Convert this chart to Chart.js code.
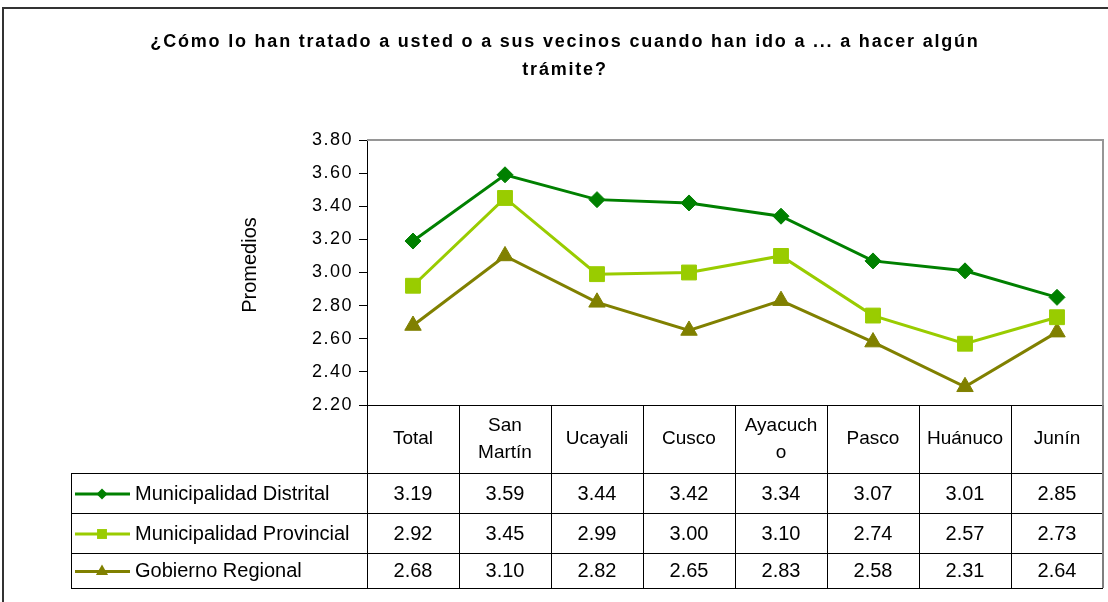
<!DOCTYPE html>
<html>
<head>
<meta charset="utf-8">
<script src="https://cdn.jsdelivr.net/npm/chart.js@4/dist/chart.umd.min.js"></script>
<style>
  html, body { margin: 0; padding: 0; background: #ffffff; }
  #c { display: block; }
</style>
</head>
<body>
<canvas id="c" width="1108" height="602"></canvas>
<script>
// ---- Data ----
const categories = ['Total', 'San Martín', 'Ucayali', 'Cusco', 'Ayacucho', 'Pasco', 'Huánuco', 'Junín'];
const headerLabels = [['Total'], ['San', 'Martín'], ['Ucayali'], ['Cusco'], ['Ayacuch', 'o'], ['Pasco'], ['Huánuco'], ['Junín']];
const seriesNames = ['Municipalidad Distrital', 'Municipalidad Provincial', 'Gobierno Regional'];
const distrital  = [3.19, 3.59, 3.44, 3.42, 3.34, 3.07, 3.01, 2.85];
const provincial = [2.92, 3.45, 2.99, 3.00, 3.10, 2.74, 2.57, 2.73];
const regional   = [2.68, 3.10, 2.82, 2.65, 2.83, 2.58, 2.31, 2.64];
const yMin = 2.2, yMax = 3.8, yStep = 0.2;
const titleLines = ['¿Cómo lo han tratado a usted o a sus vecinos cuando han ido a ... a hacer algún', 'trámite?'];
const yTitle = 'Promedios';

const FONT = '"Liberation Sans", Arial, sans-serif';
const colors = ['#008000', '#99CC00', '#808000'];
const styles = ['rectRot', 'rect', 'triangle'];
const radii = [8, 10.5, 9.5];
const legendRadii = [5.5, 7, 7];

function marker(ctx, style, r, x, y, color) {
  ctx.save();
  ctx.fillStyle = color;
  ctx.beginPath();
  if (style === 'rectRot') {
    ctx.moveTo(x, y - r); ctx.lineTo(x + r, y); ctx.lineTo(x, y + r); ctx.lineTo(x - r, y);
  } else if (style === 'rect') {
    const s = r * Math.SQRT1_2;
    ctx.rect(x - s, y - s, 2 * s, 2 * s);
  } else {
    ctx.moveTo(x, y - r);
    ctx.lineTo(x + r * 0.866, y + r * 0.5);
    ctx.lineTo(x - r * 0.866, y + r * 0.5);
  }
  ctx.closePath();
  ctx.fill();
  ctx.restore();
}

const tablePlugin = {
  id: 'tablePlugin',
  beforeDraw(chart) {
    const ctx = chart.ctx;
    ctx.save();
    ctx.fillStyle = '#ffffff';
    ctx.fillRect(0, 0, chart.width, chart.height);
    ctx.restore();
    if ('letterSpacing' in ctx) ctx.letterSpacing = '1.5px';
  },
  beforeDatasetsDraw(chart) {
    const ctx = chart.ctx;
    if ('letterSpacing' in ctx) ctx.letterSpacing = '0px';
    const a = chart.chartArea;
    ctx.save();
    ctx.strokeStyle = '#969696';
    ctx.lineWidth = 2;
    ctx.beginPath();
    ctx.moveTo(a.left, a.top);
    ctx.lineTo(a.right, a.top);
    ctx.lineTo(a.right, a.bottom);
    ctx.stroke();
    ctx.restore();
  },
  afterDraw(chart) {
    const ctx = chart.ctx;
    const a = chart.chartArea;
    const xs = chart.scales.x;
    const n = categories.length;
    const half = (a.right - a.left) / n / 2;
    const tableLeft = 71;
    const rowEdges = [a.bottom, 473, 513, 553, 588];
    ctx.save();
    if ('letterSpacing' in ctx) ctx.letterSpacing = '0px';

    // outer frame
    ctx.strokeStyle = '#333333';
    ctx.lineWidth = 2;
    ctx.beginPath();
    ctx.moveTo(3, 602); ctx.lineTo(3, 8); ctx.lineTo(1108, 8);
    ctx.stroke();

    // table grid
    ctx.strokeStyle = '#000000';
    ctx.lineWidth = 1;
    ctx.beginPath();
    ctx.moveTo(a.left, rowEdges[0] + 0.5); ctx.lineTo(a.right, rowEdges[0] + 0.5);
    for (let r = 1; r < rowEdges.length; r++) {
      ctx.moveTo(tableLeft, rowEdges[r] + 0.5); ctx.lineTo(a.right, rowEdges[r] + 0.5);
    }
    ctx.moveTo(tableLeft + 0.5, rowEdges[1]); ctx.lineTo(tableLeft + 0.5, rowEdges[4]);
    for (let i = 0; i < n; i++) {
      const xl = Math.round(xs.getPixelForValue(i) - half) + 0.5;
      ctx.moveTo(xl, rowEdges[0]); ctx.lineTo(xl, rowEdges[4]);
    }
    ctx.stroke();
    ctx.strokeStyle = '#7f7f7f';
    ctx.lineWidth = 2;
    ctx.beginPath();
    ctx.moveTo(a.right, rowEdges[0]); ctx.lineTo(a.right, rowEdges[4]);
    ctx.stroke();

    // header labels
    ctx.fillStyle = '#000000';
    ctx.textAlign = 'center';
    ctx.textBaseline = 'middle';
    ctx.font = '19px ' + FONT;
    const hc = (rowEdges[0] + rowEdges[1]) / 2;
    for (let i = 0; i < n; i++) {
      const lines = headerLabels[i];
      const lh = 27;
      const y0 = hc - (lines.length - 1) * lh / 2;
      const x = xs.getPixelForValue(i);
      lines.forEach((t, k) => ctx.fillText(t, x, y0 + k * lh));
    }

    // data rows
    const data = [distrital, provincial, regional];
    ctx.font = '20px ' + FONT;
    for (let r = 0; r < 3; r++) {
      const yc = (rowEdges[r + 1] + rowEdges[r + 2]) / 2 + 1;
      ctx.textAlign = 'center';
      ctx.fillStyle = '#000000';
      for (let i = 0; i < n; i++) {
        ctx.fillText(data[r][i].toFixed(2), xs.getPixelForValue(i), yc);
      }
      ctx.strokeStyle = colors[r];
      ctx.lineWidth = 3;
      ctx.beginPath();
      ctx.moveTo(75, yc); ctx.lineTo(130, yc);
      ctx.stroke();
      marker(ctx, styles[r], legendRadii[r], 102, yc, colors[r]);
      ctx.textAlign = 'left';
      ctx.fillStyle = '#000000';
      ctx.fillText(seriesNames[r], 135, yc);
    }

    // y axis title
    ctx.save();
    ctx.translate(250, 265);
    ctx.rotate(-Math.PI / 2);
    ctx.font = '20px ' + FONT;
    ctx.textAlign = 'center';
    ctx.fillText(yTitle, 0, 0);
    ctx.restore();

    // chart title
    ctx.font = 'bold 18px ' + FONT;
    if ('letterSpacing' in ctx) ctx.letterSpacing = '1.8px';
    ctx.textAlign = 'center';
    ctx.fillText(titleLines[0], 565, 42);
    ctx.fillText(titleLines[1], 565, 70);
    if ('letterSpacing' in ctx) ctx.letterSpacing = '0px';
    ctx.restore();
  }
};

const datasets = [distrital, provincial, regional].map((d, k) => ({
  label: seriesNames[k],
  data: d,
  borderColor: colors[k],
  backgroundColor: colors[k],
  borderWidth: 3,
  pointStyle: styles[k],
  pointRadius: radii[k],
  pointHoverRadius: radii[k],
  pointBackgroundColor: colors[k],
  pointBorderColor: colors[k],
  pointBorderWidth: 1,
  tension: 0,
  clip: false
}));

new Chart(document.getElementById('c'), {
  type: 'line',
  data: { labels: categories, datasets },
  options: {
    responsive: false,
    animation: false,
    devicePixelRatio: 1,
    layout: { autoPadding: false, padding: { top: 140, bottom: 197, left: 0, right: 5 } },
    plugins: {
      legend: { display: false },
      title: { display: false },
      tooltip: { enabled: false }
    },
    scales: {
      x: { type: 'category', offset: true, display: false },
      y: {
        min: yMin, max: yMax,
        afterFit(scale) { scale.width = 367; },
        ticks: {
          stepSize: yStep,
          color: '#000000',
          padding: 6,
          font: { family: FONT, size: 18 },
          callback: v => Number(v).toFixed(2)
        },
        grid: { drawOnChartArea: false, drawTicks: true, tickLength: 8, color: '#000000' },
        border: { display: true, color: '#000000', width: 1 }
      }
    }
  },
  plugins: [tablePlugin]
});
</script>
</body>
</html>
